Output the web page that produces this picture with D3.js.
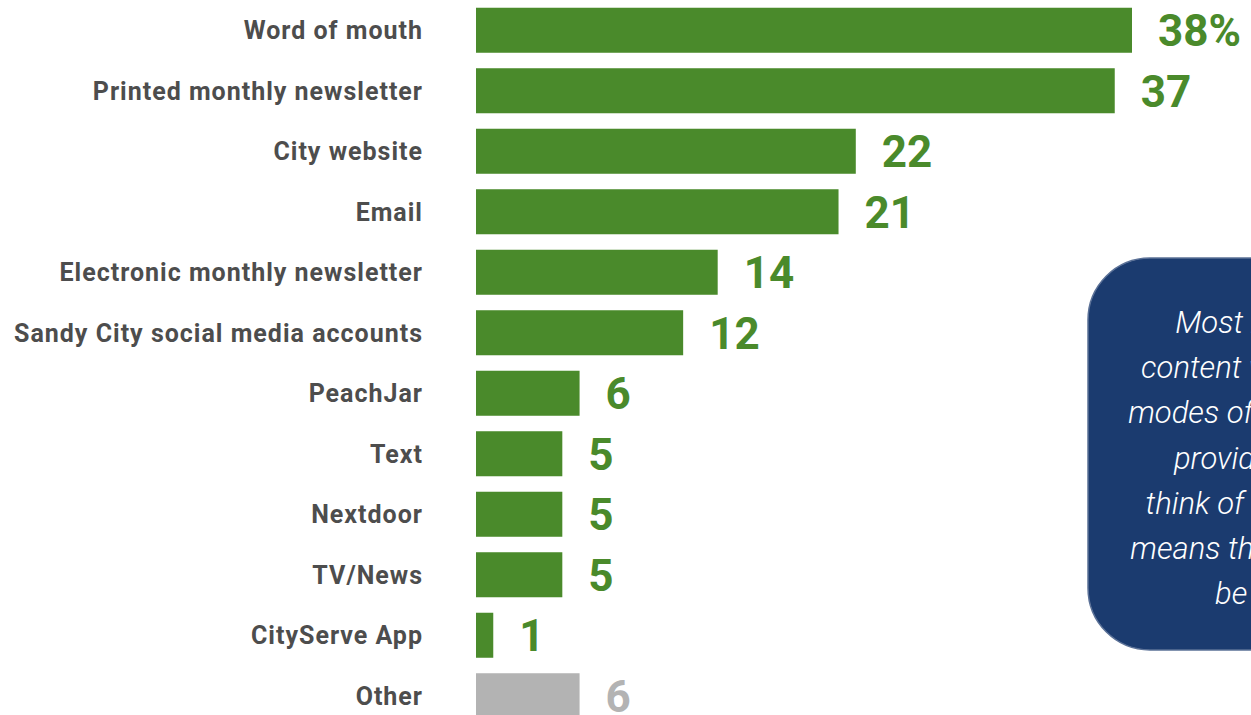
<!DOCTYPE html>
<html><head><meta charset="utf-8">
<script src="https://cdn.jsdelivr.net/npm/d3@7"></script>
<style>html,body{margin:0;padding:0;background:#fff;overflow:hidden}</style>
</head><body>
<svg id="chart" width="1251" height="715"></svg>
<script>
const categories = ["Word of mouth","Printed monthly newsletter","City website","Email","Electronic monthly newsletter","Sandy City social media accounts","PeachJar","Text","Nextdoor","TV/News","CityServe App","Other"];
const values = [38,37,22,21,14,12,6,5,5,5,1,6];
const valueLabels = ["38%","37","22","21","14","12","6","5","5","5","1","6"];
const calloutLines = ["Most residents are","content with the current","modes of communication","provided, but when","think of Sandy City, this","means that they will likely","be informed."];

const svg = d3.select("#chart");
const green = "#4a8a2b", grey = "#b3b3b3";

const x = d3.scaleLinear().domain([0, 38]).range([476, 1132]);
const y = d3.scaleBand().domain(categories).range([0, 726]).paddingInner(0.256).paddingOuter(0.128);

svg.selectAll("rect.bar").data(categories).join("rect")
  .attr("class","bar")
  .attr("x", x(0))
  .attr("y", d => y(d))
  .attr("width", (d,i) => x(values[i]) - x(0))
  .attr("height", y.bandwidth())
  .attr("fill", d => d === "Other" ? grey : green);

svg.selectAll("text.cat").data(categories).join("text")
  .attr("class","cat")
  .attr("x", 423)
  .attr("y", d => y(d) + y.bandwidth()/2)
  .attr("dy","0.36em")
  .attr("text-anchor","end")
  .attr("font-family","Roboto, sans-serif")
  .attr("font-weight",700)
  .attr("font-size",25)
  .attr("letter-spacing","1px")
  .attr("fill","#4d4d4d")
  .text(d => d);

svg.selectAll("text.val").data(categories).join("text")
  .attr("class","val")
  .attr("x", (d,i) => x(values[i]) + 26)
  .attr("y", d => y(d) + y.bandwidth()/2)
  .attr("dy","0.36em")
  .attr("font-family","Roboto, sans-serif")
  .attr("font-weight",700)
  .attr("font-size",44)
  .attr("fill", d => d === "Other" ? grey : green)
  .text((d,i) => valueLabels[i]);

// callout box
const box = svg.append("g");
box.append("rect")
  .attr("x",1088).attr("y",258).attr("width",420).attr("height",392)
  .attr("rx",62).attr("ry",62)
  .attr("fill","#1b3b6f").attr("stroke","#5b7197").attr("stroke-width",1.5);
box.selectAll("text").data(calloutLines).join("text")
  .attr("x",1298)
  .attr("y",(d,i)=>333 + i*45.2)
  .attr("text-anchor","middle")
  .attr("font-family","Roboto, sans-serif")
  .attr("font-style","italic")
  .attr("font-weight",300)
  .attr("font-size",31)
  .attr("fill","#ffffff")
  .text(d=>d);
</script>
</body></html>
